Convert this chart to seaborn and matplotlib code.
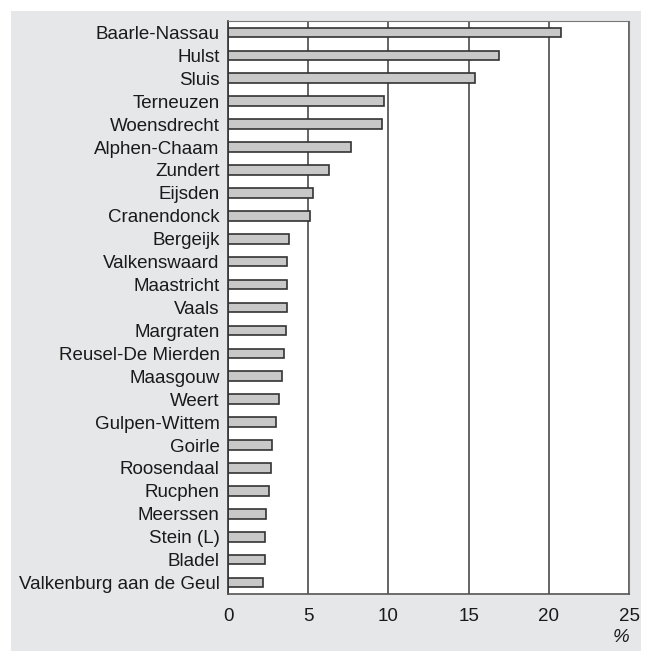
import matplotlib
matplotlib.use("Agg")
import matplotlib.pyplot as plt
import seaborn as sns
import pandas as pd
from matplotlib.patches import Rectangle

# Data
gemeenten = [
    "Baarle-Nassau", "Hulst", "Sluis", "Terneuzen", "Woensdrecht",
    "Alphen-Chaam", "Zundert", "Eijsden", "Cranendonck", "Bergeijk",
    "Valkenswaard", "Maastricht", "Vaals", "Margraten", "Reusel-De Mierden",
    "Maasgouw", "Weert", "Gulpen-Wittem", "Goirle", "Roosendaal",
    "Rucphen", "Meerssen", "Stein (L)", "Bladel", "Valkenburg aan de Geul",
]
percentage = [
    20.75, 16.9, 15.4, 9.7, 9.6,
    7.65, 6.3, 5.27, 5.14, 3.83,
    3.7, 3.68, 3.66, 3.6, 3.52,
    3.35, 3.16, 2.98, 2.75, 2.66,
    2.56, 2.35, 2.29, 2.29, 2.16,
]
x_ticks = [0, 5, 10, 15, 20, 25]

df = pd.DataFrame({"gemeente": gemeenten, "pct": percentage})

sns.set_style("white")
plt.rcParams["font.family"] = ["Liberation Sans", "DejaVu Sans"]

fig = plt.figure(figsize=(6.5, 6.57), dpi=100)
fig.patch.set_facecolor("white")

# grey panel behind the chart
fig.patches.append(Rectangle((11 / 650, 6 / 657), 630 / 650, 640 / 657,
                             transform=fig.transFigure, facecolor="#e6e7e8",
                             edgecolor="none", zorder=-10))

ax = fig.add_axes([228 / 650, 63 / 657, 401 / 650, 573 / 657])
ax.set_zorder(1)
ax.set_facecolor("white")

sns.barplot(data=df, x="pct", y="gemeente", orient="h", ax=ax,
            color="#c8c8c8", edgecolor="#333333", linewidth=1.2,
            width=0.42, saturation=1)

ax.set_xlim(0, 25)
ax.set_ylim(24.5, -0.5)
ax.set_xticks(x_ticks)
ax.set_xticklabels([str(t) for t in x_ticks], fontsize=13.5, color="#1a1a1a")
ax.tick_params(axis="x", direction="out", length=7, width=1, color="#555555", pad=3)
ax.tick_params(axis="y", length=0, labelsize=13.5, labelcolor="#1a1a1a", pad=6)

ax.grid(axis="x", color="#585858", linewidth=1.3)
ax.grid(axis="y", visible=False)
ax.set_axisbelow(True)

for side in ["top", "right"]:
    ax.spines[side].set_color("#777777")
    ax.spines[side].set_linewidth(0.8)
ax.spines["left"].set_color("#333333")
ax.spines["left"].set_linewidth(1.2)
ax.spines["bottom"].set_color("#555555")
ax.spines["bottom"].set_linewidth(1.2)

ax.set_ylabel("")
ax.set_xlabel("%", fontsize=13.5, style="italic", loc="right", labelpad=3, color="#1a1a1a")

fig.savefig("out.png", dpi=100)
